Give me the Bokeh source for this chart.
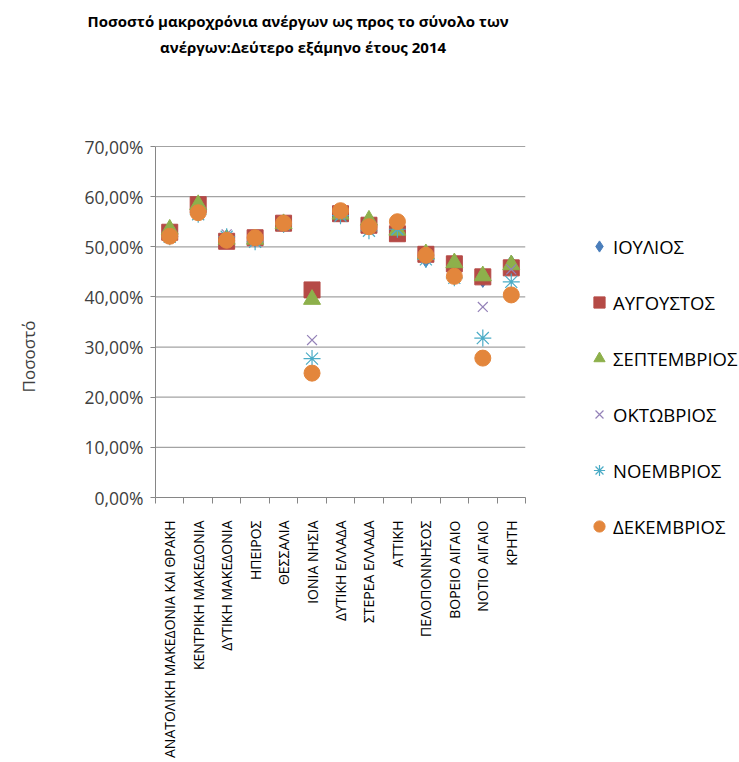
import numpy as np
from bokeh.plotting import figure
from bokeh.models import (ColumnDataSource, FixedTicker, LinearAxis, Legend, LegendItem,
                          Title, CustomJSTickFormatter, Range1d)
from bokeh.embed import file_html
from bokeh.resources import INLINE

categories = ["ΑΝΑΤΟΛΙΚΗ ΜΑΚΕΔΟΝΙΑ ΚΑΙ ΘΡΑΚΗ", "ΚΕΝΤΡΙΚΗ ΜΑΚΕΔΟΝΙΑ", "ΔΥΤΙΚΗ ΜΑΚΕΔΟΝΙΑ",
              "ΗΠΕΙΡΟΣ", "ΘΕΣΣΑΛΙΑ", "ΙΟΝΙΑ ΝΗΣΙΑ", "ΔΥΤΙΚΗ ΕΛΛΑΔΑ", "ΣΤΕΡΕΑ ΕΛΛΑΔΑ",
              "ΑΤΤΙΚΗ", "ΠΕΛΟΠΟΝΝΗΣΟΣ", "ΒΟΡΕΙΟ ΑΙΓΑΙΟ", "ΝΟΤΙΟ ΑΙΓΑΙΟ", "ΚΡΗΤΗ"]

july = [52.5, 57.5, 51.8, 51.5, 54.5, 41.0, 56.5, 54.0, 53.0, 47.5, 45.5, 43.5, 46.7]
august = [52.9, 58.4, 51.1, 51.8, 54.7, 41.4, 56.6, 54.3, 52.6, 48.5, 46.6, 44.0, 45.8]
september = [53.5, 58.4, 51.5, 51.5, 54.6, 39.5, 56.5, 55.3, 53.3, 48.6, 46.8, 44.2, 46.4]
october = [52.0, 57.0, 52.5, 51.2, 54.5, 31.4, 56.5, 53.5, 53.5, 47.8, 44.0, 38.0, 45.5]
november = [52.0, 56.5, 52.0, 51.0, 54.5, 27.7, 56.2, 53.2, 53.5, 47.5, 43.8, 31.8, 43.0]
december = [52.1, 56.8, 51.3, 51.8, 54.7, 24.8, 57.2, 54.0, 55.0, 48.3, 44.1, 27.8, 40.4]

series_names = ["ΙΟΥΛΙΟΣ", "ΑΥΓΟΥΣΤΟΣ", "ΣΕΠΤΕΜΒΡΙΟΣ", "ΟΚΤΩΒΡΙΟΣ", "ΝΟΕΜΒΡΙΟΣ", "ΔΕΚΕΜΒΡΙΟΣ"]
series_values = [july, august, september, october, november, december]

y_ticks = [0, 10, 20, 30, 40, 50, 60, 70]
title_lines = ["Ποσοστό μακροχρόνια ανέργων ως προς το σύνολο των",
               "ανέργων:Δεύτερο εξάμηνο έτους 2014"]
y_title = "Ποσοστό"

FONT = "Open Sans"

# layout (pixels)
FRAME_W, FRAME_H = 370, 438     # frame: plot area plus empty band up to the titles
PLOT_H = 351                    # height of the 0..70 % band
YTITLE_AT = 35.3                # upper end of the y title, in axis units
n = len(categories)
y_end = y_ticks[-1] * FRAME_H / PLOT_H

x_pos = np.arange(n) + 0.5

p = figure(frame_width=FRAME_W, frame_height=FRAME_H, output_backend="svg", toolbar_location=None,
           x_range=Range1d(0, n), y_range=Range1d(0, y_end),
           min_border_left=155, min_border_right=214, min_border_top=59,
           min_border_bottom=265, x_axis_type=None, y_axis_type=None)
p.outline_line_color = None
p.background_fill_color = "white"
p.border_fill_color = "white"
p.title.visible = False
p.xgrid.visible = False
p.ygrid.visible = False

# titles (inner line first, outer line second)
p.add_layout(Title(text=title_lines[1], align="left", offset=4.5, vertical_align="middle",
                   standoff=4, text_font=FONT, text_font_size="15px", text_font_style="bold",
                   text_color="#000000"), "above")
p.add_layout(Title(text=title_lines[0], align="left", offset=-68, vertical_align="middle",
                   standoff=4, text_font=FONT, text_font_size="15px", text_font_style="bold",
                   text_color="#000000"), "above")

# horizontal gridlines over the 0..70 band
p.segment(x0=[0] * len(y_ticks), x1=[n] * len(y_ticks), y0=y_ticks, y1=y_ticks,
          line_color="#a3a3a3", line_width=1.2)

# x axis with ticks on category boundaries
xaxis = LinearAxis(ticker=FixedTicker(ticks=list(x_pos), minor_ticks=list(range(n + 1))),
                   major_label_overrides={float(x): c for x, c in zip(x_pos, categories)})
xaxis.major_tick_line_color = None
xaxis.major_tick_out = 0
xaxis.major_tick_in = 0
xaxis.minor_tick_out = 6
xaxis.minor_tick_in = 0
xaxis.minor_tick_line_color = "#868686"
xaxis.axis_line_color = "#868686"
xaxis.major_label_orientation = np.pi / 2
xaxis.major_label_text_font = FONT
xaxis.major_label_text_font_size = "14px"
xaxis.major_label_text_color = "#000000"
xaxis.major_label_standoff = 17
p.add_layout(xaxis, "below")

# y axis (0..70 %)
yaxis = LinearAxis(ticker=FixedTicker(ticks=y_ticks, minor_ticks=[]), bounds=(0, y_ticks[-1]))
yaxis.formatter = CustomJSTickFormatter(code="return tick.toFixed(2).replace('.', ',') + '%';")
yaxis.axis_line_color = "#868686"
yaxis.major_tick_line_color = "#868686"
yaxis.major_tick_out = 5
yaxis.major_tick_in = 0
yaxis.minor_tick_line_color = None
yaxis.major_label_text_font = FONT
yaxis.major_label_text_font_size = "17.5px"
yaxis.major_label_text_color = "#404040"
yaxis.major_label_standoff = 7
p.add_layout(yaxis, "left")

# outer axis that only carries the y title, placed through the y scale
ytitle_axis = LinearAxis(ticker=FixedTicker(ticks=[YTITLE_AT], minor_ticks=[]),
                         major_label_overrides={YTITLE_AT: y_title})
ytitle_axis.axis_line_color = None
ytitle_axis.major_tick_line_color = None
ytitle_axis.minor_tick_line_color = None
ytitle_axis.major_tick_out = 0
ytitle_axis.major_tick_in = 0
ytitle_axis.major_label_standoff = 53
ytitle_axis.major_label_orientation = np.pi / 2
ytitle_axis.major_label_text_font = FONT
ytitle_axis.major_label_text_font_size = "17px"
ytitle_axis.major_label_text_color = "#404040"
p.add_layout(ytitle_axis, "left")

styles = [
    dict(marker="diamond", size=16, fill_color="#4A7EBB", line_color="#4A7EBB"),
    dict(marker="square", size=16, fill_color="#B54A46", line_color="#B54A46"),
    dict(marker="triangle", size=17, fill_color="#8DB04B", line_color="#8DB04B"),
    dict(marker="x", size=14, line_color="#9482B8", line_width=1.2),
    dict(marker="asterisk", size=17, line_color="#4BACC6", line_width=1.2),
    dict(marker="circle", size=16, fill_color="#E3863C", line_color="#E3863C"),
]

items = []
for name, vals, st in zip(series_names, series_values, styles):
    src = ColumnDataSource(dict(x=x_pos, y=vals))
    r = p.scatter("x", "y", source=src, **st)
    items.append(LegendItem(label=name, renderers=[r]))

legend = Legend(items=items, location=(60, -43), orientation="vertical",
                glyph_width=28, glyph_height=28, spacing=28, label_standoff=-1,
                label_text_font=FONT, label_text_font_size="18.5px", label_text_color="#000000",
                border_line_color=None, background_fill_alpha=0, padding=0, margin=0,
                label_height=28)
p.add_layout(legend, "right")

open("out.html", "w").write(file_html(p, INLINE))
